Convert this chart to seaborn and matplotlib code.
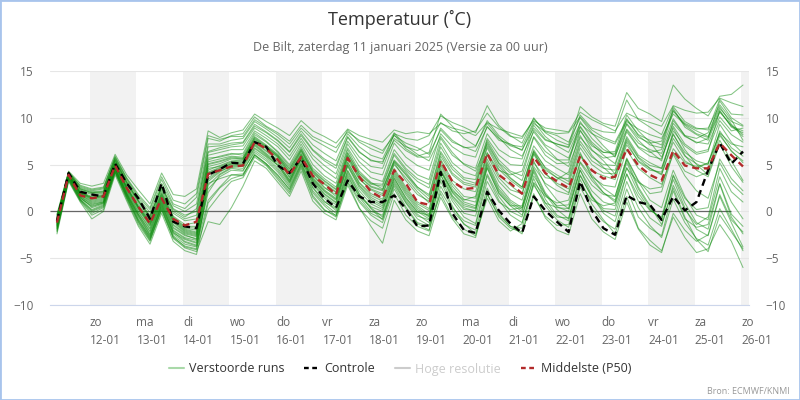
import pandas as pd
import matplotlib
matplotlib.use('Agg')
import matplotlib.pyplot as plt
from matplotlib.lines import Line2D
from matplotlib.patches import Rectangle
import seaborn as sns

# 6-uurlijkse tijdstappen, lokale tijd
start = '2025-01-11 07:00'
n_stappen = 60

controle = [-1.0, 4.1, 2.1, 1.8, 1.6, 5.1, 3.0, 1.4, -0.8, 3.0, -1.1, -1.6,
            -1.8, 3.9, 4.5, 5.2, 5.1, 7.4, 6.9, 4.9, 4.1, 5.7, 3.0, 1.4,
            0.4, 3.3, 1.6, 1.0, 1.0, 1.7, 0.3, -1.6, -1.5, 4.2, -0.2, -2.0,
            -2.3, 2.1, 0.1, -1.3, -2.3, 1.6, 0.1, -1.1, -2.2, 3.2, 0.1, -1.8,
            -2.5, 1.7, 1.0, 0.7, -0.9, 1.6, 0.1, 1.0, 4.4, 7.3, 5.1, 6.4]

p50 = [-1.2, 3.9, 1.7, 1.4, 1.6, 4.9, 2.5, 0.5, -1.3, 1.4, -0.8, -1.5,
       -1.1, 4.0, 4.4, 4.8, 4.9, 7.4, 6.7, 5.5, 3.9, 5.8, 3.8, 2.9,
       1.8, 5.7, 3.7, 2.1, 1.4, 4.4, 3.0, 1.0, 0.7, 5.4, 3.2, 2.4,
       2.5, 6.2, 3.9, 3.0, 1.9, 5.8, 4.1, 3.2, 2.5, 5.9, 4.4, 3.5,
       3.7, 6.7, 4.9, 3.9, 3.3, 6.5, 4.9, 4.6, 4.6, 7.3, 6.0, 4.8]

runs = [
    [-1.0, 4.0, 2.2, 1.8, 1.9, 5.3, 2.9, 0.8, -0.9, 2.2, -0.5, -1.4, -1.2, 5.5, 5.9, 6.2, 6.0, 8.2, 7.4, 6.3, 4.8, 6.9, 4.6, 3.5, 2.6, 6.6, 4.3, 3.1, 2.4, 5.5, 4.2, 2.6, 1.8, 6.4, 4.5, 3.4, 3.0, 7.4, 5.2, 4.1, 3.3, 7.0, 5.4, 4.6, 3.9, 7.9, 6.5, 5.7, 5.9, 8.8, 7.3, 6.6, 6.2, 9.4, 8.0, 7.4, 7.2, 10.1, 8.6, 8.9],
    [-1.8, 3.6, 1.4, 0.6, 0.9, 4.4, 1.7, -0.6, -2.6, 0.6, -2.3, -3.0, -3.4, 2.0, 3.9, 4.6, 4.4, 6.3, 5.4, 4.2, 2.6, 5.1, 2.2, 0.8, -0.2, 3.7, 1.6, 0.4, -0.6, 2.9, 0.9, -0.8, -1.5, 3.5, 1.1, -0.6, -1.3, 3.8, 1.2, -0.4, -1.2, 3.0, 0.6, -0.9, -1.7, 2.6, 0.3, -1.1, -1.9, 2.4, -0.6, -1.8, -2.6, 2.2, -0.8, -1.7, -1.4, 3.0, -0.3, -1.6],
    [-0.4, 4.2, 2.8, 2.4, 2.6, 5.8, 3.5, 1.6, 0.2, 3.4, 0.8, 0.3, 1.5, 7.8, 7.5, 8.1, 8.3, 10.1, 9.1, 8.4, 7.5, 9.2, 8.0, 7.4, 6.8, 8.5, 7.6, 7.1, 6.5, 8.1, 7.3, 6.8, 6.1, 8.7, 7.4, 6.9, 6.4, 9.0, 7.8, 7.0, 6.6, 8.9, 7.6, 7.2, 6.8, 9.4, 8.3, 7.7, 7.2, 9.6, 8.8, 8.2, 7.8, 10.4, 9.3, 8.6, 8.0, 11.0, 9.6, 9.1],
    [-1.3, 3.9, 1.9, 1.2, 1.4, 4.9, 2.3, 0.2, -1.6, 1.4, -1.2, -2.2, -2.5, 4.6, 4.8, 5.3, 5.4, 7.6, 6.8, 5.8, 4.0, 6.2, 3.9, 2.6, 1.6, 5.6, 3.4, 2.4, 1.9, 5.0, 3.6, 2.1, 0.9, 5.6, 3.3, 2.4, 2.1, 6.3, 3.9, 2.8, 1.8, 6.1, 4.0, 3.0, 2.4, 6.3, 3.6, 2.0, 1.0, 5.2, 2.4, 0.4, -1.0, 3.8, 0.9, -1.2, -1.9, 2.9, -0.6, -2.4],
    [-2.2, 3.3, 1.1, -0.4, 0.2, 4.1, 1.3, -1.4, -3.2, 0.1, -2.9, -3.9, -4.3, -1.1, -1.4, 0.4, 2.7, 5.4, 4.6, 3.1, 1.6, 4.3, 1.1, -0.2, -0.9, 2.8, 0.3, -1.0, -1.8, 1.9, -0.4, -1.6, -2.1, 2.2, 0.1, -1.3, -2.4, 1.9, -0.6, -1.8, -2.2, 1.6, -0.5, -1.5, -1.4, 2.9, 1.2, 0.6, 0.9, 4.6, 3.1, 2.4, 2.6, 6.7, 5.2, 4.8, 5.1, 8.4, 7.2, 6.9],
    [-0.8, 4.1, 2.5, 2.1, 2.2, 5.6, 3.2, 1.2, -0.4, 2.6, 0.2, -0.6, 0.3, 6.4, 6.8, 7.1, 7.3, 9.1, 8.4, 7.5, 6.3, 8.1, 6.5, 5.4, 4.6, 7.9, 6.3, 5.5, 5.1, 8.3, 7.8, 7.6, 8.1, 10.2, 9.5, 9.0, 8.4, 11.3, 9.2, 8.1, 7.3, 10.0, 8.4, 7.6, 7.1, 11.2, 10.1, 9.4, 9.1, 12.7, 11.0, 10.4, 9.6, 13.5, 12.0, 11.0, 10.2, 12.3, 12.5, 13.5],
    [-1.5, 3.8, 1.7, 0.9, 1.1, 4.6, 2.0, -0.3, -2.2, 1.0, -1.8, -2.6, -2.9, 3.6, 4.4, 5.0, 5.1, 7.2, 6.2, 5.2, 3.3, 5.9, 3.4, 2.1, 1.2, 5.0, 2.8, 1.5, 0.8, 4.2, 2.2, 0.6, -0.3, 4.6, 2.1, 0.8, 0.4, 5.1, 2.4, 1.0, 0.2, 4.2, 1.3, -0.4, -1.0, 3.4, 0.8, -0.9, -2.4, 1.6, -1.8, -3.1, -4.2, -0.6, -2.8, -4.4, -4.0, -1.4, -3.2, -6.0],
    [-1.1, 4.0, 2.0, 1.5, 1.7, 5.1, 2.6, 0.5, -1.2, 1.8, -0.8, -1.8, -2.0, 5.1, 5.4, 5.8, 5.7, 7.9, 7.0, 6.0, 4.5, 6.6, 4.3, 3.2, 2.3, 6.2, 4.0, 2.9, 2.7, 6.0, 4.4, 3.2, 2.5, 6.9, 4.8, 3.6, 3.4, 7.6, 5.5, 4.3, 3.8, 7.9, 6.0, 5.1, 5.2, 9.6, 7.8, 6.6, 6.0, 9.9, 8.2, 7.6, 7.1, 11.0, 9.0, 8.2, 7.6, 10.6, 9.2, 8.0],
    [-2.0, 3.5, 1.3, 0.1, 0.6, 4.2, 1.5, -1.0, -2.9, 0.4, -2.6, -3.5, -3.8, 1.2, 2.6, 3.9, 4.0, 6.0, 5.0, 3.6, 2.1, 4.8, 1.7, 0.2, -0.6, 3.2, 1.0, -0.4, -1.2, 2.4, 0.3, -1.3, -2.0, 2.7, 0.4, -1.0, -1.5, 3.2, 1.0, 0.2, 0.4, 4.8, 3.0, 2.2, 1.8, 5.9, 4.3, 3.8, 3.4, 7.1, 5.4, 4.6, 3.9, 7.8, 5.9, 5.1, 4.4, 8.6, 6.8, 5.9],
    [-0.6, 4.2, 2.6, 2.2, 2.4, 5.7, 3.4, 1.4, -0.1, 3.0, 0.6, 0.0, 0.8, 7.2, 7.2, 7.6, 7.8, 9.6, 8.8, 7.9, 6.8, 8.6, 7.1, 6.2, 5.4, 8.3, 6.9, 6.0, 5.6, 8.2, 6.7, 5.9, 6.3, 10.4, 9.1, 7.8, 7.0, 9.4, 7.9, 6.6, 5.9, 8.5, 6.9, 5.6, 4.8, 8.1, 6.0, 4.7, 3.6, 7.4, 5.3, 4.4, 4.2, 8.6, 7.0, 6.1, 6.4, 10.8, 9.0, 8.4],
    [-1.7, 3.7, 1.5, 0.4, 0.8, 4.5, 1.8, -0.8, -2.8, 0.8, -2.2, -3.2, -3.6, 2.8, 4.0, 4.7, 4.6, 6.7, 5.8, 4.6, 3.0, 5.5, 2.9, 1.4, 0.4, 4.3, 1.9, 0.3, -0.9, 2.7, 0.5, -1.2, -1.6, 1.9, -0.6, -1.9, -2.6, 1.4, -1.0, -2.1, -1.3, 3.1, 1.6, 0.9, 1.2, 5.3, 3.7, 2.8, 2.6, 6.6, 4.6, 3.6, 2.9, 6.1, 3.8, 2.2, 1.4, 5.2, 3.0, 1.8],
    [-0.9, 4.1, 2.3, 1.9, 2.0, 5.4, 3.0, 1.0, -0.7, 2.4, -0.2, -1.0, -0.8, 6.0, 6.3, 6.6, 6.6, 8.6, 7.8, 6.9, 5.5, 7.5, 5.6, 4.4, 3.5, 7.2, 5.3, 4.2, 3.9, 7.3, 5.8, 4.9, 4.4, 8.3, 6.9, 6.1, 5.8, 9.1, 7.6, 7.2, 6.5, 9.4, 8.5, 8.1, 7.4, 10.0, 8.4, 7.0, 5.8, 9.3, 7.6, 6.4, 5.4, 9.7, 8.1, 7.3, 7.8, 11.8, 10.0, 9.2],
    [-1.4, 3.9, 1.8, 1.0, 1.2, 4.7, 2.1, -0.1, -1.9, 1.2, -1.5, -2.4, -2.7, 4.1, 4.6, 5.1, 5.2, 7.4, 6.5, 5.5, 3.7, 6.0, 3.6, 2.3, 1.4, 5.3, 3.1, 1.9, 1.3, 4.6, 2.6, 1.0, 0.3, 5.1, 2.7, 1.3, 1.0, 5.6, 3.2, 1.9, 1.2, 5.4, 2.8, 1.2, 0.3, 4.4, 1.7, -0.2, -1.1, 3.2, 0.4, -1.5, -2.8, 1.3, -1.2, -2.9, -3.6, 0.3, -1.9, -4.2],
    [-0.3, 4.3, 3.0, 2.7, 3.0, 6.1, 3.9, 2.3, 0.8, 4.1, 1.8, 1.6, 2.4, 8.6, 7.9, 8.4, 8.7, 10.4, 9.6, 8.9, 8.1, 9.7, 8.6, 8.0, 7.3, 8.8, 8.1, 7.7, 7.4, 8.7, 8.3, 8.5, 8.3, 9.4, 8.9, 8.6, 8.1, 9.5, 8.8, 8.4, 8.0, 9.7, 8.9, 8.7, 8.5, 10.6, 9.8, 9.2, 8.6, 10.5, 9.9, 9.5, 9.1, 11.3, 10.8, 10.5, 10.6, 12.1, 11.6, 11.2],
    [-1.2, 3.9, 2.0, 1.4, 1.6, 5.0, 2.5, 0.4, -1.4, 1.6, -1.0, -2.0, -2.3, 4.8, 5.1, 5.6, 5.6, 7.7, 6.9, 5.9, 4.2, 6.4, 4.1, 2.9, 2.0, 5.9, 3.7, 2.6, 2.2, 5.3, 3.9, 2.4, 1.3, 5.9, 3.9, 2.9, 2.6, 6.8, 4.5, 3.3, 2.4, 6.4, 4.7, 3.9, 3.2, 7.2, 5.4, 4.6, 4.4, 8.0, 6.0, 5.2, 4.6, 8.2, 6.3, 5.4, 5.0, 9.3, 7.4, 6.2],
    [-1.9, 3.4, 1.2, 0.0, 0.5, 4.3, 1.6, -1.1, -3.0, 0.2, -2.8, -3.7, -4.0, 0.2, 1.8, 3.2, 3.6, 5.8, 4.9, 3.4, 1.9, 4.6, 1.5, 0.1, -0.4, 3.5, 1.2, -0.2, -0.8, 3.1, 1.0, -0.5, -0.9, 3.9, 1.6, 0.2, 0.1, 4.6, 2.0, 0.6, -0.4, 3.5, 0.9, -0.6, -0.7, 3.8, 1.6, 0.3, 0.2, 4.0, 1.1, -0.7, -1.6, 2.8, 0.2, -1.4, -0.6, 4.6, 2.1, 1.0],
    [-0.7, 4.1, 2.4, 2.0, 2.1, 5.5, 3.1, 1.1, -0.6, 2.6, 0.0, -0.8, -0.4, 6.3, 6.6, 6.9, 7.0, 8.9, 8.1, 7.2, 5.9, 7.8, 6.0, 4.9, 4.0, 7.5, 5.8, 4.8, 4.6, 7.8, 6.9, 6.5, 7.2, 9.5, 8.6, 8.3, 8.6, 10.5, 9.0, 8.0, 7.8, 9.9, 8.6, 8.3, 8.4, 10.1, 8.7, 7.9, 7.4, 9.8, 8.1, 7.1, 6.8, 10.7, 9.4, 8.8, 8.9, 11.4, 9.8, 7.6],
    [-1.6, 3.7, 1.6, 0.7, 1.0, 4.6, 1.9, -0.4, -2.4, 0.9, -2.0, -2.8, -3.1, 3.2, 4.2, 4.9, 4.9, 7.0, 6.0, 4.9, 3.2, 5.8, 3.2, 1.8, 0.9, 4.8, 2.5, 1.1, 0.4, 3.8, 1.8, 0.2, -0.6, 4.3, 1.7, 0.4, 0.0, 4.7, 1.9, 0.6, 0.6, 5.2, 3.6, 3.4, 4.2, 8.6, 7.0, 6.3, 6.4, 10.3, 8.6, 7.4, 5.8, 8.9, 6.6, 5.0, 3.9, 7.6, 5.4, 3.3],
    [-1.3, 3.8, 1.9, 1.3, 1.5, 4.9, 2.4, 0.3, -1.5, 1.5, -1.1, -2.1, -2.4, 4.4, 4.9, 5.4, 5.5, 7.5, 6.7, 5.7, 3.9, 6.1, 3.8, 2.5, 1.8, 5.8, 3.5, 2.3, 1.7, 5.2, 3.3, 1.8, 1.1, 5.4, 3.0, 1.6, 1.4, 6.0, 3.6, 2.3, 1.9, 6.2, 4.4, 3.6, 3.5, 7.5, 5.8, 5.0, 4.9, 8.5, 6.8, 5.9, 5.6, 9.1, 7.2, 6.3, 6.6, 9.7, 8.2, 7.4],
    [-2.1, 3.4, 1.2, -0.2, 0.4, 4.2, 1.4, -1.2, -3.1, 0.3, -2.7, -3.8, -4.1, 3.0, 3.5, 3.9, 3.8, 6.1, 5.1, 3.9, 2.3, 4.9, 2.0, 0.6, -0.5, 3.1, 0.4, -1.6, -3.4, 1.2, -0.9, -2.1, -2.6, 1.5, -0.8, -2.4, -2.8, 1.8, -0.4, -1.6, -1.8, 2.8, 0.9, 0.4, 0.3, 4.7, 2.8, 1.8, 1.6, 5.6, 3.2, 1.2, 0.4, 4.4, 1.6, -0.4, -0.9, 3.7, 1.0, -0.8],
    [-1.0, 4.0, 2.1, 1.6, 1.8, 5.2, 2.7, 0.6, -1.0, 2.0, -0.6, -1.6, -1.6, 5.7, 5.8, 6.1, 6.2, 8.4, 7.5, 6.4, 5.0, 7.2, 5.0, 3.8, 3.0, 6.8, 4.8, 3.6, 3.2, 6.6, 5.0, 3.9, 3.4, 7.8, 6.0, 5.1, 4.6, 8.3, 6.6, 5.8, 5.6, 9.2, 7.7, 7.2, 6.9, 10.3, 8.9, 8.5, 8.4, 11.9, 9.8, 9.0, 8.2, 11.2, 9.6, 8.9, 8.7, 12.0, 10.4, 10.3],
    [-1.4, 3.8, 1.8, 1.1, 1.3, 4.8, 2.2, 0.0, -1.8, 1.3, -1.4, -2.3, -2.6, 4.2, 4.7, 5.2, 5.3, 7.3, 6.4, 5.4, 3.6, 5.9, 3.5, 2.2, 1.3, 5.2, 3.0, 1.7, 1.1, 4.4, 2.4, 0.8, 0.1, 4.9, 2.4, 1.0, 0.6, 5.3, 2.7, 1.2, 0.4, 4.6, 2.0, 0.5, 0.0, 4.4, 2.2, 1.0, 0.6, 4.7, 2.0, 0.2, -0.8, 3.4, 0.4, -1.9, -2.6, 1.6, -1.2, -3.8],
    [-0.5, 4.2, 2.7, 2.3, 2.5, 5.9, 3.6, 1.8, 0.4, 3.7, 1.2, 0.8, 1.9, 8.1, 7.7, 8.0, 8.0, 9.8, 9.0, 8.2, 7.2, 8.9, 7.7, 7.0, 6.3, 8.7, 7.4, 6.7, 6.2, 8.4, 7.0, 6.1, 5.4, 8.0, 6.3, 5.0, 4.3, 7.2, 5.1, 3.6, 2.6, 6.4, 4.1, 2.8, 2.0, 6.1, 3.9, 2.5, 1.6, 5.7, 3.3, 1.9, 2.1, 6.3, 4.3, 3.7, 4.2, 8.1, 6.5, 5.2],
    [-2.4, 3.2, 1.0, -0.8, 0.0, 3.9, 1.1, -1.6, -3.5, -0.2, -3.2, -4.2, -4.6, 0.9, 2.5, 3.5, 3.9, 6.0, 5.1, 3.8, 2.4, 5.1, 2.5, 1.0, 0.3, 4.1, 1.8, 0.5, 0.0, 3.6, 1.4, -0.1, -0.4, 4.3, 2.2, 1.2, 1.6, 6.2, 4.4, 3.9, 4.3, 8.0, 6.4, 5.5, 5.5, 8.7, 6.6, 5.4, 4.0, 7.8, 5.8, 4.9, 4.6, 8.3, 6.0, 4.4, 3.7, 7.2, 4.8, 3.1],
    [-1.6, 3.6, 1.5, 0.5, 0.9, 4.5, 1.8, -0.5, -2.5, 0.7, -2.1, -2.9, -3.3, 3.4, 4.3, 4.8, 4.8, 6.8, 5.9, 4.9, 3.1, 5.6, 3.0, 1.6, 0.7, 4.4, 2.2, 0.8, 0.2, 3.5, 1.5, 0.0, -0.8, 3.9, 1.4, -0.2, -0.5, 4.0, 1.6, 0.0, -0.6, 3.8, 1.8, 0.6, 0.7, 5.2, 3.3, 2.0, 1.2, 5.5, 2.6, 0.6, -1.4, 2.5, -0.6, -3.0, -4.3, -0.4, -2.2, -4.0],
    [-0.8, 4.1, 2.4, 2.0, 2.1, 5.5, 3.1, 1.1, -0.5, 2.7, 0.3, -0.4, 0.0, 6.9, 7.0, 7.3, 7.4, 9.3, 8.5, 7.6, 6.4, 8.3, 6.6, 5.6, 4.9, 8.0, 6.4, 5.4, 5.3, 7.6, 6.5, 5.8, 5.8, 8.9, 7.6, 6.8, 6.9, 9.7, 8.1, 7.1, 6.9, 9.6, 8.0, 7.0, 6.3, 9.1, 7.4, 6.3, 6.2, 9.4, 7.9, 7.3, 7.5, 10.8, 9.2, 8.3, 7.9, 10.7, 9.1, 8.6],
    [-1.5, 3.7, 1.6, 0.8, 1.0, 4.6, 1.9, -0.3, -2.1, 1.1, -1.7, -2.5, -3.0, 3.9, 4.5, 5.1, 5.0, 7.1, 6.1, 5.0, 3.4, 5.7, 3.3, 1.9, 1.0, 4.9, 2.7, 1.3, 0.6, 4.0, 2.0, 0.4, -0.5, 4.4, 2.0, 0.6, 0.3, 4.9, 2.2, 0.8, 0.0, 4.4, 1.8, 0.2, -0.8, 3.9, 1.5, 0.1, -0.5, 4.0, 1.6, 0.1, -0.6, 3.9, 1.4, 0.2, 0.4, 5.6, 3.5, 2.2],
    [-1.1, 3.9, 2.0, 1.5, 1.7, 5.1, 2.6, 0.5, -1.1, 1.9, -0.7, -1.7, -1.8, 5.3, 5.6, 5.9, 5.8, 8.0, 7.1, 6.1, 4.6, 6.7, 4.4, 3.3, 2.4, 6.3, 4.1, 3.0, 2.9, 6.2, 4.6, 3.5, 2.9, 7.3, 5.2, 4.2, 3.8, 7.8, 6.0, 5.0, 4.9, 8.7, 7.1, 6.4, 5.7, 9.0, 7.2, 6.0, 5.1, 8.7, 6.9, 6.3, 6.6, 9.9, 8.1, 7.8, 8.4, 11.2, 9.3, 8.2],
    [-1.8, 3.5, 1.3, 0.2, 0.7, 4.3, 1.6, -0.9, -2.7, 0.5, -2.4, -3.3, -3.7, 2.4, 3.7, 4.4, 4.3, 6.5, 5.6, 4.4, 2.8, 5.3, 2.6, 1.1, 0.1, 3.9, 1.5, 0.0, -0.4, 3.3, 1.2, -0.3, -1.2, 3.2, 0.6, -1.4, -2.0, 2.5, -0.2, -1.6, -2.4, 1.9, -0.7, -2.0, -2.5, 1.9, -0.8, -2.2, -3.0, 1.0, -1.9, -3.6, -4.4, -0.2, -2.0, -3.2, -2.5, 1.8, -0.9, -2.2],
    [-1.2, 3.9, 1.9, 1.4, 1.6, 5.0, 2.5, 0.4, -1.3, 1.7, -0.9, -1.9, -2.2, 5.0, 5.3, 5.7, 5.6, 7.8, 6.9, 5.9, 4.3, 6.5, 4.2, 3.0, 2.1, 6.0, 3.8, 2.7, 2.3, 5.4, 4.0, 2.6, 1.6, 6.2, 4.1, 3.1, 2.8, 7.0, 4.8, 3.5, 2.6, 6.6, 4.6, 3.6, 2.9, 6.8, 5.0, 4.1, 4.0, 7.6, 5.7, 4.6, 4.0, 7.4, 5.4, 4.6, 5.2, 8.3, 6.4, 5.4],
]

dag_afk = ['ma', 'di', 'wo', 'do', 'vr', 'za', 'zo']


def main():
    sns.set_style('white')
    plt.rcParams['font.family'] = ['Open Sans', 'DejaVu Sans']

    tijden = pd.date_range(start, periods=n_stappen, freq='6h')
    dagen = pd.date_range('2025-01-12', '2025-01-26', freq='D')

    df_runs = pd.DataFrame({
        'tijd': list(tijden) * len(runs),
        'temp': [v for run in runs for v in run],
        'run': [i for i, run in enumerate(runs) for _ in run],
    })

    fig = plt.figure(figsize=(8, 4), dpi=100)
    ax = fig.add_axes([50 / 800, 1 - 305 / 400, 699 / 800, 234 / 400])

    links = pd.Timestamp('2025-01-12') - pd.Timedelta(hours=20.6)
    rechts = pd.Timestamp('2025-01-12') + pd.Timedelta(hours=340.1)

    # grijze banden om de dag
    for i, d in enumerate(dagen):
        if i % 2 == 0:
            eind = d + pd.Timedelta(days=1)
            ax.axvspan(d, min(eind, rechts), color='#f2f2f2', lw=0, zorder=0)

    ax.hlines(0, links, tijden[-2], color='#666666', lw=0.9, zorder=1)

    sns.lineplot(data=df_runs, x='tijd', y='temp', units='run', estimator=None,
                 color='#0a8a0a', alpha=0.5, lw=0.75, ax=ax, legend=False, zorder=2)
    sns.lineplot(x=tijden, y=controle, color='black', lw=1.7, linestyle=(0, (3, 2)),
                 ax=ax, zorder=3)
    sns.lineplot(x=tijden, y=p50, color='#b22a2a', lw=1.7, linestyle=(0, (3, 2)),
                 ax=ax, zorder=4)

    ax.set_xlim(links, rechts)
    ax.set_ylim(-10, 15)
    ax.set_yticks([-10, -5, 0, 5, 10, 15])
    ax.yaxis.grid(True, color='#e6e6e6', lw=0.8)
    ax.set_axisbelow(True)
    for s in ['top', 'left', 'right']:
        ax.spines[s].set_visible(False)
    ax.spines['bottom'].set_color('#ccd6eb')
    ax.spines['bottom'].set_linewidth(0.8)
    ax.set_xlabel('')
    ax.set_ylabel('')

    ax.set_xticks(dagen)
    ax.set_xticklabels([f"{dag_afk[d.weekday()]}\n{d.strftime('%d-%m')}" for d in dagen],
                       ha='left', linespacing=1.45)
    ax.tick_params(axis='x', length=5, width=0.8, color='#ccd6eb', pad=3,
                   labelsize=8.5, labelcolor='#666666')
    ax.tick_params(axis='y', length=0, labelsize=8.5, labelcolor='#666666',
                   labelleft=True, labelright=True, pad=12)

    fig.text(0.5, 1 - 19 / 400, 'Temperatuur (˚C)', ha='center', va='center',
             fontsize=13, color='#333333')
    fig.text(0.5, 1 - 47 / 400, 'De Bilt, zaterdag 11 januari 2025 (Versie za 00 uur)',
             ha='center', va='center', fontsize=9, color='#666666')

    handles = [
        Line2D([], [], color='#a9d9a9', lw=1.5),
        Line2D([], [], color='black', lw=1.7, linestyle=(0, (2, 1.5))),
        Line2D([], [], color='#cccccc', lw=1.5),
        Line2D([], [], color='#b22a2a', lw=1.7, linestyle=(0, (2, 1.5))),
    ]
    labels = ['Verstoorde runs', 'Controle', 'Hoge resolutie', 'Middelste (P50)']
    leg = fig.legend(handles, labels, loc='center', bbox_to_anchor=(0.5, 1 - 369 / 400),
                     ncol=4, frameon=False, fontsize=9, handlelength=1.2,
                     handletextpad=0.4, columnspacing=1.6)
    for t, c in zip(leg.get_texts(), ['#333333', '#333333', '#cccccc', '#333333']):
        t.set_color(c)

    fig.text(1 - 10 / 800, 1 - 391 / 400, 'Bron: ECMWF/KNMI', ha='right', va='center',
             fontsize=6.5, color='#999999')

    fig.patches.append(Rectangle((0, 0), 1, 1, transform=fig.transFigure, fill=False,
                                 edgecolor='#a8c4ec', lw=2))

    fig.savefig('out.png', dpi=100)


if __name__ == '__main__':
    main()
